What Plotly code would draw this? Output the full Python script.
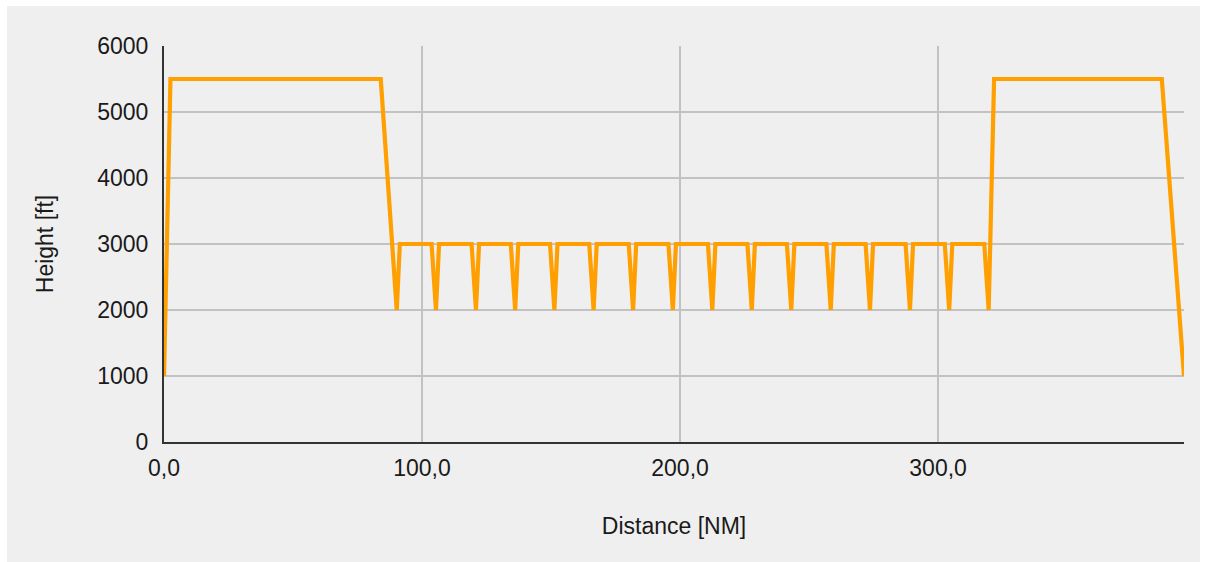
import plotly.graph_objects as go

distance_nm = [
    0.0, 2.5, 84.0,
    90.2, 91.4, 103.7,
    105.4, 106.6, 119.2,
    120.9, 122.1, 134.4,
    136.1, 137.3, 149.6,
    151.3, 152.5, 164.8,
    166.5, 167.7, 180.1,
    181.8, 183.0, 195.5,
    197.2, 198.4, 210.8,
    212.5, 213.7, 226.1,
    227.8, 229.0, 241.4,
    243.1, 244.3, 256.7,
    258.4, 259.6, 271.9,
    273.6, 274.8, 287.4,
    289.1, 290.3, 302.6,
    304.3, 305.5, 317.9,
    319.6, 321.7, 386.7, 395.3,
]
height_ft = [
    1000, 5500, 5500,
    2000, 3000, 3000,
    2000, 3000, 3000,
    2000, 3000, 3000,
    2000, 3000, 3000,
    2000, 3000, 3000,
    2000, 3000, 3000,
    2000, 3000, 3000,
    2000, 3000, 3000,
    2000, 3000, 3000,
    2000, 3000, 3000,
    2000, 3000, 3000,
    2000, 3000, 3000,
    2000, 3000, 3000,
    2000, 3000, 3000,
    2000, 3000, 3000,
    2000, 5500, 5500, 1000,
]
x_tickvals = [0, 100, 200, 300]
x_ticktext = ["0,0", "100,0", "200,0", "300,0"]
y_tickvals = [0, 1000, 2000, 3000, 4000, 5000, 6000]

BG = "#efefef"
FONT = "Liberation Sans, Arial, sans-serif"

fig = go.Figure()
fig.add_trace(go.Scatter(
    x=distance_nm, y=height_ft, mode="lines",
    line=dict(color="#ff9f00", width=4.2),
    hoverinfo="x+y", showlegend=False,
))

fig.update_layout(
    width=1205, height=562,
    margin=dict(l=164, r=21, t=46, b=120),
    paper_bgcolor="white",
    plot_bgcolor=BG,
    font=dict(family=FONT, size=23, color="#1a1a1a"),
    shapes=[dict(
        type="rect", xref="paper", yref="paper",
        x0=-157 / 1020, x1=1 + 16 / 1020,
        y0=-120 / 396, y1=1 + 40 / 396,
        fillcolor=BG, line=dict(width=0), layer="below",
    )],
)
fig.update_xaxes(
    range=[0, distance_nm[-1]],
    tickvals=x_tickvals, ticktext=x_ticktext,
    showgrid=True, gridcolor="#c2c2c2", gridwidth=1.5,
    showline=True, linecolor="#333333", linewidth=2,
    zeroline=False,
    ticks="outside", ticklen=4, tickcolor="rgba(0,0,0,0)",
    title=dict(text="Distance [NM]", standoff=38, font=dict(size=23)),
)
fig.update_yaxes(
    range=[0, 6000],
    tickvals=y_tickvals,
    showgrid=True, gridcolor="#c2c2c2", gridwidth=1.5,
    showline=True, linecolor="#333333", linewidth=2,
    zeroline=False,
    ticks="outside", ticklen=9, tickcolor="rgba(0,0,0,0)",
    title=dict(text="Height [ft]", standoff=37, font=dict(size=23)),
)

fig.write_html(
    "out.html",
    config={"displayModeBar": False},
    post_script="document.body.style.margin='0';document.body.style.overflow='hidden';",
)
